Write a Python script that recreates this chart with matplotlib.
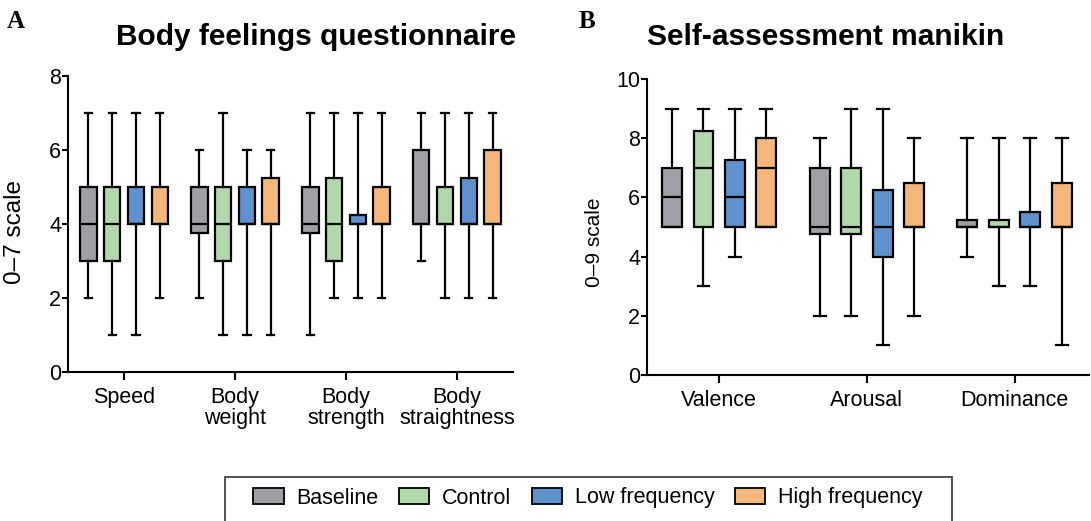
import matplotlib
matplotlib.use('Agg')
import matplotlib.pyplot as plt
from matplotlib.patches import Patch, Rectangle

plt.rcParams['font.family'] = ['Liberation Sans', 'DejaVu Sans']

# ---------------- data ----------------
conditions = ['Baseline', 'Control', 'Low frequency', 'High frequency']
colors = ['#a09fa5', '#b1d8aa', '#5f91cc', '#f3b77a']

bfq_categories = ['Speed', 'Body\nweight', 'Body\nstrength', 'Body\nstraightness']
# rows: condition, columns: category
bfq_whislo = [[2, 2, 1, 3], [1, 1, 2, 2], [1, 1, 2, 2], [2, 1, 2, 2]]
bfq_q1 = [[3, 3.75, 3.75, 4], [3, 3, 3, 4], [4, 4, 4, 4], [4, 4, 4, 4]]
bfq_med = [[4, 4, 4, 4], [4, 4, 4, 4], [4, 4, 4, 4], [4, 4, 4, 4]]
bfq_q3 = [[5, 5, 5, 6], [5, 5, 5.25, 5], [5, 5, 4.25, 5.25], [5, 5.25, 5, 6]]
bfq_whishi = [[7, 6, 7, 7], [7, 7, 7, 7], [7, 6, 7, 7], [7, 6, 7, 7]]
bfq_yticks = [0, 2, 4, 6, 8]

sam_categories = ['Valence', 'Arousal', 'Dominance']
sam_whislo = [[5, 2, 4], [3, 2, 3], [4, 1, 3], [5, 2, 1]]
sam_q1 = [[5, 4.75, 5], [5, 4.75, 5], [5, 4, 5], [5, 5, 5]]
sam_med = [[6, 5, 5], [7, 5, 5], [6, 5, 5], [7, 5, 5]]
sam_q3 = [[7, 7, 5.25], [8.25, 7, 5.25], [7.25, 6.25, 5.5], [8, 6.5, 6.5]]
sam_whishi = [[9, 8, 8], [9, 9, 8], [9, 9, 8], [9, 8, 8]]
sam_yticks = [0, 2, 4, 6, 8, 10]

# ---------------- figure ----------------
W, H = 1091, 521
fig = plt.figure(figsize=(W / 100, H / 100), dpi=100)


def fx(px):
    return px / W


def fy(py):
    return 1 - py / H


def draw_panel(ax, cats, lo, q1, med, q3, hi, spacing, width, capw):
    lw = 1.6
    for i, cond in enumerate(conditions):
        stats = []
        for j, c in enumerate(cats):
            stats.append(dict(whislo=lo[i][j], q1=q1[i][j], med=med[i][j],
                              q3=q3[i][j], whishi=hi[i][j], fliers=[], label=c))
        pos = [j + (i - 1.5) * spacing for j in range(len(cats))]
        ax.bxp(stats, positions=pos, widths=width, patch_artist=True,
               showfliers=False, manage_ticks=False, capwidths=capw,
               boxprops=dict(facecolor=colors[i], edgecolor='black', linewidth=lw),
               medianprops=dict(color='black', linewidth=lw),
               whiskerprops=dict(color='black', linewidth=lw),
               capprops=dict(color='black', linewidth=lw))
    ax.set_xticks(range(len(cats)))
    ax.set_xticklabels(cats, fontsize=15.5, linespacing=1.0)
    for s in ['top', 'right']:
        ax.spines[s].set_visible(False)
    for s in ['left', 'bottom']:
        ax.spines[s].set_linewidth(1.5)
    ax.tick_params(axis='x', length=6, width=1.5, pad=5)
    ax.tick_params(axis='y', length=4, width=1.5, pad=1, labelsize=15.5)


ax1 = fig.add_axes([fx(68), fy(372), fx(513 - 68), (372 - 76) / H])
draw_panel(ax1, bfq_categories, bfq_whislo, bfq_q1, bfq_med, bfq_q3, bfq_whishi,
           0.215, 0.15, 0.065)
ax1.set_xlim(-0.505, 3.505)
ax1.set_ylim(0, 8)
ax1.set_yticks(bfq_yticks)

ax2 = fig.add_axes([fx(647), fy(375), fx(1089 - 647), (375 - 79) / H])
draw_panel(ax2, sam_categories, sam_whislo, sam_q1, sam_med, sam_q3, sam_whishi,
           0.213, 0.135, 0.08)
ax2.set_xlim(-0.489, 2.504)
ax2.set_ylim(0, 10)
ax2.set_yticks(sam_yticks)

# y labels
fig.text(fx(15), fy(232), '0–7 scale', rotation=90, ha='center', va='center', fontsize=17.5)
fig.text(fx(595), fy(242), '0–9 scale', rotation=90, ha='center', va='center', fontsize=15)

# titles
fig.text(fx(316), fy(37), 'Body feelings questionnaire', ha='center', va='center',
         fontsize=21.5, fontweight='bold')
fig.text(fx(826), fy(37), 'Self-assessment manikin', ha='center', va='center',
         fontsize=21.5, fontweight='bold')

# panel letters
fig.text(fx(16), fy(22), 'A', ha='center', va='center', fontsize=18,
         fontweight='bold', family='Liberation Serif')
fig.text(fx(587), fy(21), 'B', ha='center', va='center', fontsize=18,
         fontweight='bold', family='Liberation Serif')

# legend
handles = [Patch(facecolor=c, edgecolor='black', linewidth=1.3, label=l)
           for c, l in zip(colors, conditions)]
fig.legend(handles=handles, loc='center', bbox_to_anchor=(fx(588), fy(498)),
           ncol=4, frameon=False, fontsize=15.5, handlelength=1.4,
           handleheight=0.7, handletextpad=0.6, columnspacing=0.95)
fig.patches.append(Rectangle((fx(225), fy(535)), fx(952 - 225), (535 - 477) / H,
                             transform=fig.transFigure, facecolor='none',
                             edgecolor='#333333', linewidth=1.2))

fig.savefig('out.png', dpi=100)
